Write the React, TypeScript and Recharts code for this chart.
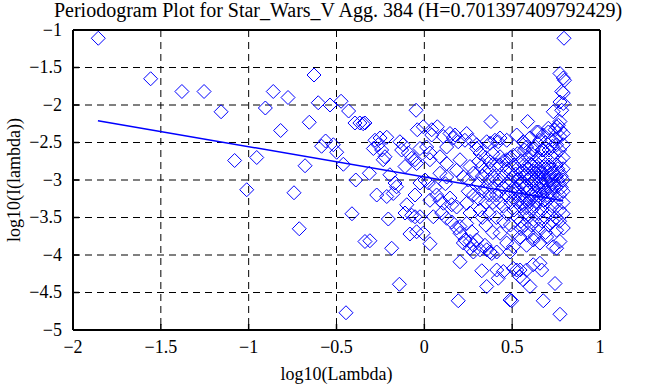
import React from "react"
import {
  ScatterChart,
  Scatter,
  XAxis,
  YAxis,
  CartesianGrid,
} from "recharts"

// log10(lambda), log10(I(lambda))
const lowBand: [number, number][] = [
  [-1.856, -1.11], [-1.558, -1.65], [-1.38, -1.82], [-1.254, -1.82], [-1.157, -2.09],
  [-1.08, -2.74], [-1.011, -3.13], [-0.954, -2.7], [-0.905, -2.04], [-0.86, -1.82],
  [-0.818, -2.34], [-0.776, -1.9], [-0.742, -3.17], [-0.712, -3.65], [-0.679, -2.81],
  [-0.655, -2.23], [-0.628, -1.6], [-0.604, -1.97], [-0.585, -2.55], [-0.562, -2.48],
  [-0.537, -2.0], [-0.518, -2.53], [-0.499, -2.63], [-0.474, -1.95], [-0.461, -2.79],
  [-0.446, -4.77], [-0.431, -2.08], [-0.412, -3.45], [-0.395, -2.24], [-0.39, -3.0],
  [-0.367, -2.24], [-0.348, -2.25], [-0.338, -2.24], [-0.338, -3.82], [-0.313, -2.91],
  [-0.31, -3.81], [-0.29, -2.58], [-0.281, -2.47], [-0.271, -3.2], [-0.262, -2.53],
  [-0.252, -2.44], [-0.243, -2.6], [-0.234, -2.73], [-0.224, -2.69], [-0.214, -2.43],
  [-0.214, -3.22], [-0.205, -3.52], [-0.196, -2.93], [-0.186, -3.91], [-0.177, -3.18],
  [-0.167, -3.04], [-0.158, -3.09],
]

const midBand: [number, number][] = [
  [-0.142, -4.39], [-0.139, -2.49], [-0.129, -2.6], [-0.12, -2.53], [-0.11, -2.82],
  [-0.11, -3.44], [-0.1, -3.33], [-0.091, -2.64], [-0.082, -3.72], [-0.072, -2.71],
  [-0.072, -3.47], [-0.053, -2.73], [-0.053, -3.2], [-0.053, -3.49], [-0.047, -2.07],
  [-0.044, -2.78], [-0.044, -3.69], [-0.04, -2.33], [-0.025, -2.58], [-0.025, -3.49],
  [-0.025, -3.04], [-0.006, -2.29], [-0.006, -3.71], [0.004, -3.0], [0.013, -2.56],
  [0.023, -3.04], [0.032, -2.73], [0.032, -2.64], [0.032, -3.27], [0.032, -3.85],
  [0.042, -2.33], [0.042, -2.4], [0.051, -3.49], [0.06, -3.1], [0.07, -3.2],
  [0.074, -2.29], [0.089, -2.69], [0.089, -2.91], [0.089, -3.27], [0.099, -3.44],
  [0.108, -2.42], [0.108, -3.31], [0.12, -3.05], [0.127, -2.56], [0.127, -2.78],
  [0.127, -2.96], [0.127, -3.51], [0.146, -2.38], [0.146, -3.24], [0.156, -3.33],
  [0.156, -3.56], [0.165, -2.44], [0.175, -2.4], [0.184, -2.87], [0.184, -3.36],
  [0.184, -3.64], [0.193, -2.49], [0.193, -4.61], [0.203, -2.73], [0.203, -3.62],
  [0.203, -3.71], [0.203, -4.09], [0.222, -2.96], [0.222, -3.84], [0.231, -2.47],
  [0.231, -3.8], [0.241, -2.38], [0.241, -3.31], [0.241, -3.58], [0.25, -3.0],
  [0.25, -3.15], [0.26, -2.82], [0.26, -3.44], [0.26, -3.82], [0.26, -3.91],
  [0.27, -2.47], [0.27, -3.69], [0.279, -2.91], [0.279, -3.87], [0.279, -3.96],
  [0.28, -3.2], [0.298, -2.58], [0.298, -2.53], [0.298, -3.8],
]

const highUpper: [number, number][] = [
  [0.795, -1.11], [0.772, -1.58], [0.791, -1.64], [0.798, -1.67], [0.782, -1.82],
  [0.791, -1.84], [0.772, -1.96], [0.791, -1.98], [0.782, -2.07], [0.734, -2.09],
  [0.772, -2.22], [0.763, -2.27], [0.744, -2.33], [0.706, -2.36], [0.725, -2.47],
  [0.772, -2.42], [0.753, -2.53], [0.791, -2.53], [0.379, -2.22], [0.588, -2.22],
  [0.355, -2.49], [0.374, -2.51], [0.402, -2.47], [0.421, -2.49], [0.431, -2.44],
  [0.469, -2.47], [0.526, -2.4], [0.563, -2.49], [0.573, -2.51], [0.582, -2.56],
  [0.601, -2.44], [0.62, -2.6], [0.639, -2.36], [0.65, -2.36], [0.658, -2.47],
  [0.677, -2.4], [0.677, -2.6], [0.706, -2.31], [0.753, -2.29], [0.772, -2.33],
  [0.791, -2.38], [0.317, -2.64], [0.327, -2.82], [0.374, -2.76], [0.431, -2.69],
  [0.469, -2.73], [0.507, -2.67],
]

const highCore: [number, number][] = [
  [0.31, -2.75], [0.31, -3.05], [0.31, -3.25], [0.317, -3.4], [0.33, -2.95],
  [0.33, -3.15], [0.33, -3.5], [0.35, -2.7], [0.35, -2.9], [0.35, -3.1],
  [0.35, -3.3], [0.35, -3.6], [0.37, -2.85], [0.37, -3.0], [0.37, -3.2],
  [0.37, -3.45], [0.39, -2.65], [0.39, -2.95], [0.39, -3.1], [0.39, -3.3],
  [0.39, -3.7], [0.41, -2.8], [0.41, -3.0], [0.41, -3.2], [0.41, -3.5],
  [0.43, -2.8], [0.43, -3.0], [0.43, -3.15], [0.43, -3.3], [0.431, -3.71],
  [0.45, -2.75], [0.45, -2.95], [0.45, -3.1], [0.45, -3.35], [0.45, -3.55],
  [0.47, -2.85], [0.47, -3.05], [0.47, -3.2], [0.47, -3.45], [0.469, -3.84],
  [0.49, -2.7], [0.49, -2.9], [0.49, -3.0], [0.49, -3.15], [0.49, -3.3],
  [0.49, -3.6], [0.488, -3.96], [0.51, -2.8], [0.51, -2.95], [0.51, -3.1],
  [0.51, -3.25], [0.51, -3.4], [0.51, -3.7], [0.507, -3.89], [0.53, -2.65],
  [0.53, -2.85], [0.53, -3.0], [0.53, -3.12], [0.53, -3.3], [0.53, -3.5],
  [0.55, -2.75], [0.55, -2.9], [0.55, -3.05], [0.55, -3.2], [0.55, -3.35],
  [0.55, -3.55], [0.55, -3.65], [0.545, -3.76], [0.57, -2.6], [0.57, -2.8],
  [0.57, -2.95], [0.57, -3.1], [0.57, -3.25], [0.57, -3.45], [0.57, -3.6],
  [0.582, -3.87], [0.59, -2.7], [0.59, -2.85], [0.59, -3.0], [0.59, -3.15],
  [0.59, -3.3], [0.59, -3.5], [0.59, -3.7], [0.61, -2.65], [0.61, -2.8],
  [0.61, -2.95], [0.61, -3.05], [0.61, -3.2], [0.61, -3.4], [0.61, -3.6],
  [0.62, -3.8], [0.63, -2.55], [0.63, -2.75], [0.63, -2.9], [0.63, -3.0],
  [0.63, -3.15], [0.63, -3.35], [0.63, -3.55], [0.63, -3.75], [0.65, -2.7],
  [0.65, -2.85], [0.65, -2.95], [0.65, -3.1], [0.65, -3.25], [0.65, -3.45],
  [0.65, -3.65], [0.658, -3.84], [0.67, -2.6], [0.67, -2.75], [0.67, -2.9],
  [0.67, -3.05], [0.67, -3.2], [0.67, -3.4], [0.67, -3.55], [0.69, -2.5],
  [0.69, -2.7], [0.69, -2.85], [0.69, -3.0], [0.69, -3.15], [0.69, -3.3],
  [0.69, -3.5], [0.69, -3.7], [0.696, -3.76], [0.71, -2.6], [0.71, -2.8],
  [0.71, -2.95], [0.71, -3.1], [0.71, -3.25], [0.71, -3.45], [0.71, -3.6],
  [0.73, -2.55], [0.73, -2.7], [0.73, -2.9], [0.73, -3.05], [0.73, -3.2],
  [0.73, -3.35], [0.73, -3.55], [0.734, -3.89], [0.75, -2.45], [0.75, -2.65],
  [0.75, -2.8], [0.75, -2.95], [0.75, -3.1], [0.75, -3.3], [0.75, -3.5],
  [0.753, -3.67], [0.753, -3.91], [0.77, -2.6], [0.77, -2.75], [0.77, -2.9],
  [0.77, -3.05], [0.77, -3.2], [0.77, -3.4], [0.77, -3.55], [0.772, -3.82],
  [0.79, -2.7], [0.79, -2.85], [0.79, -3.0], [0.79, -3.15], [0.79, -3.3],
  [0.79, -3.45], [0.791, -3.64],
]

// extra overlapping marks in the darkest part of the cloud
const highCoreExtra: [number, number][] = [
  [0.52, -2.92], [0.52, -3.18], [0.54, -2.98], [0.54, -3.26], [0.56, -2.88],
  [0.56, -3.03], [0.56, -3.3], [0.58, -2.92], [0.58, -3.08], [0.58, -3.37],
  [0.6, -2.78], [0.6, -2.98], [0.6, -3.12], [0.6, -3.28], [0.62, -2.88],
  [0.62, -3.02], [0.62, -3.22], [0.64, -2.82], [0.64, -2.97], [0.64, -3.07],
  [0.64, -3.3], [0.66, -2.9], [0.66, -3.02], [0.66, -3.18], [0.68, -2.82],
  [0.68, -2.97], [0.68, -3.1], [0.68, -3.27], [0.7, -2.9], [0.7, -3.05],
  [0.7, -3.2], [0.72, -2.85], [0.72, -3.0], [0.72, -3.15], [0.74, -2.92],
  [0.74, -3.08], [0.76, -2.85], [0.76, -3.0], [0.78, -2.95], [0.78, -3.1],
]

const highLower: [number, number][] = [
  [0.317, -3.93], [0.327, -4.21], [0.345, -3.87], [0.355, -3.93], [0.355, -4.42],
  [0.374, -3.96], [0.384, -3.98], [0.412, -3.96], [0.412, -4.2], [0.421, -4.31],
  [0.45, -4.22], [0.488, -4.6], [0.497, -4.61], [0.507, -4.18], [0.526, -4.2],
  [0.544, -4.29], [0.545, -4.2], [0.563, -4.33], [0.582, -4.2], [0.601, -4.42],
  [0.62, -4.13], [0.658, -4.11], [0.668, -4.2], [0.677, -4.61], [0.744, -4.38],
  [0.772, -4.79],
]

// least-squares fit, endpoints
const fitX = [-1.858, 0.79]
const fitY = [-2.21, -3.277]

const xTicks = [-2, -1.5, -1, -0.5, 0, 0.5, 1]
const yTicks = [-5, -4.5, -4, -3.5, -3, -2.5, -2, -1.5, -1]

const toPoints = (rows: [number, number][]) => rows.map(([x, y]) => ({ x, y }))

const points = [
  ...toPoints(lowBand),
  ...toPoints(midBand),
  ...toPoints(highUpper),
  ...toPoints(highCore),
  ...toPoints(highCoreExtra),
  ...toPoints(highLower),
]
const fitLine = fitX.map((x, i) => ({ x, y: fitY[i] }))

const BLUE = "#0000ff"
const FONT = "Liberation Serif"
const minus = (v: number) => String(v).replace("-", "\u2212")

const Diamond = (p: any) => {
  const { cx, cy } = p
  const r = 7
  return (
    <path
      d={`M${cx},${cy - r}L${cx + r},${cy}L${cx},${cy + r}L${cx - r},${cy}Z`}
      fill="none"
      stroke={BLUE}
      strokeWidth={1}
    />
  )
}

const BottomTick = (p: any) => (
  <text
    x={p.x}
    y={p.y}
    dy="0.75em"
    textAnchor="middle"
    fontFamily={FONT}
    fontSize={18}
    fill="#000"
  >
    {minus(p.payload.value)}
  </text>
)

const LeftTick = (p: any) => (
  <text
    x={p.x}
    y={p.y}
    dy="0.33em"
    textAnchor="end"
    fontFamily={FONT}
    fontSize={18}
    fill="#000"
  >
    {minus(p.payload.value)}
  </text>
)

const axisLine = { stroke: "#000", strokeWidth: 2 }
const tickLine = { stroke: "#000", strokeWidth: 1.5 }
const labelStyle = { fill: "#000", fontSize: 18, fontFamily: FONT }

export default function App() {
  return (
    <div
      style={{
        position: "absolute",
        left: 0,
        top: 0,
        width: 660,
        height: 385,
        background: "#fff",
        fontFamily: FONT,
      }}
    >
      <div
        style={{
          position: "absolute",
          left: 0,
          top: 0,
          width: 676,
          textAlign: "center",
          fontSize: 20,
          lineHeight: "20px",
          color: "#000",
          whiteSpace: "nowrap",
        }}
      >
        Periodogram Plot for Star_Wars_V Agg. 384 (H=0.701397409792429)
      </div>
      <ScatterChart
        width={660}
        height={385}
        margin={{ top: 29, right: 59, bottom: 0, left: 0 }}
      >
        <CartesianGrid
          xAxisId="b"
          yAxisId="l"
          stroke="#000"
          strokeDasharray="7 5"
          strokeWidth={1}
        />
        <XAxis
          xAxisId="b"
          type="number"
          dataKey="x"
          domain={[-2, 1]}
          ticks={xTicks}
          allowDataOverflow
          height={55}
          tickSize={-6}
          tickMargin={15}
          tick={BottomTick}
          axisLine={axisLine}
          tickLine={tickLine}
          label={{
            value: "log10(Lambda)",
            position: "insideBottom",
            offset: 5,
            style: labelStyle,
          }}
        />
        <XAxis
          xAxisId="t"
          orientation="top"
          type="number"
          dataKey="x"
          domain={[-2, 1]}
          ticks={xTicks}
          height={1}
          tickSize={-6}
          tick={() => <g />}
          axisLine={axisLine}
          tickLine={tickLine}
        />
        <YAxis
          yAxisId="l"
          type="number"
          dataKey="y"
          domain={[-5, -1]}
          ticks={yTicks}
          allowDataOverflow
          width={73}
          tickSize={-6}
          tickMargin={17}
          tick={LeftTick}
          axisLine={axisLine}
          tickLine={tickLine}
          label={{
            value: "log10(I(lambda))",
            angle: -90,
            position: "insideLeft",
            offset: 14,
            style: { ...labelStyle, textAnchor: "middle" },
          }}
        />
        <YAxis
          yAxisId="r"
          orientation="right"
          type="number"
          dataKey="y"
          domain={[-5, -1]}
          ticks={yTicks}
          width={1}
          tickSize={-6}
          tick={() => <g />}
          axisLine={axisLine}
          tickLine={tickLine}
        />
        <Scatter
          xAxisId="b"
          yAxisId="l"
          data={points}
          shape={Diamond}
          isAnimationActive={false}
        />
        <Scatter
          xAxisId="b"
          yAxisId="l"
          data={fitLine}
          line={{ stroke: BLUE, strokeWidth: 1.5 }}
          shape={() => <g />}
          isAnimationActive={false}
        />
      </ScatterChart>
    </div>
  )
}
